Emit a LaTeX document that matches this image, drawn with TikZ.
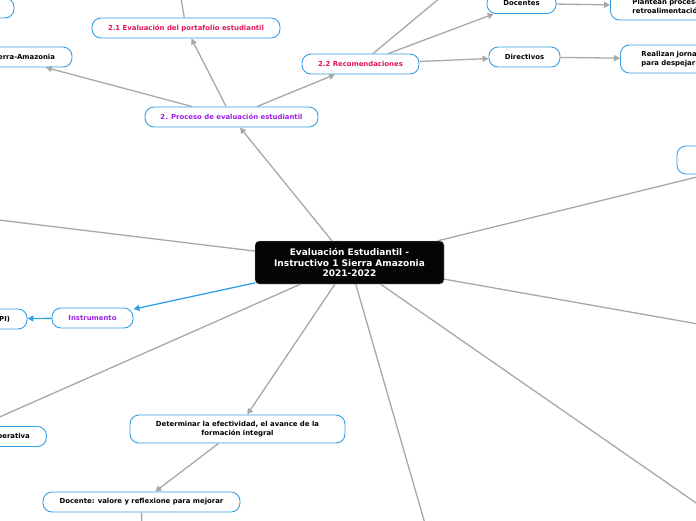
\documentclass[tikz,border=0pt]{standalone}
\usepackage{fontspec}
\setmainfont{DejaVu Sans}
\usetikzlibrary{arrows.meta}
\definecolor{mapblue}{RGB}{52,160,228}
\definecolor{mapgray}{RGB}{168,168,168}
\definecolor{mappurple}{RGB}{157,32,232}
\definecolor{mapred}{RGB}{226,20,92}
\tikzset{
    topic/.style={
        draw=mapblue,
        line width=0.9pt,
        rounded corners=9pt,
        minimum height=20pt,
        inner sep=0pt,
        align=center,
        fill=white,
        font=\fontsize{6.9}{9}\selectfont\bfseries
    },
    root/.style={
        draw=mapgray,
        fill=black!98,
        rounded corners=4pt,
        text=white,
        inner sep=0pt,
        align=center,
        font=\fontsize{9}{10.7}\selectfont\bfseries
    },
    line/.style={
        -{Triangle[length=6pt,width=6pt]},
        line width=1.3pt,
        mapgray
    },
    blueline/.style={
        line,
        mapblue
    }
}

\begin{document}
\begin{tikzpicture}[x=1pt,y=-1pt]

\useasboundingbox (0,0) rectangle (696,520);
\clip (0,0) rectangle (696,520);

\node[root, minimum width=189pt, minimum height=43pt] (central) at (349.5,262.5) {Evaluación Estudiantil -\\Instructivo 1 Sierra Amazonia\\2021-2022};

\node[topic, text=mappurple, minimum width=173pt] (proceso) at (231.5,117) {2. Proceso de evaluación estudiantil};
\node[topic, text=mapred, minimum width=188pt] (portafolio) at (186,28) {2.1 Evaluación del portafolio estudiantil};
\node[topic, text width=97pt, align=right, inner xsep=17pt] (sierra) at (6.5,57) {erra-Amazonia};
\node[topic, minimum width=120pt] (previo) at (-46,8) {};
\node[topic, text=mapred, minimum width=117pt] (recomend) at (360.5,64) {2.2 Recomendaciones};
\node[topic, minimum width=69pt] (docentes) at (521.5,3.5) {Docentes};
\node[topic, minimum width=71pt] (directivos) at (524.5,57) {Directivos};
\node[topic, anchor=west, minimum height=28pt, text width=100pt, align=left, inner xsep=22pt] (plantean) at (610,6) {Plantean procese\\retroalimentació};
\node[topic, anchor=west, minimum height=28pt, text width=100pt, align=left, inner xsep=21pt] (realizan) at (620,59) {Realizan jorna\\para despejar};
\node[topic, minimum width=178pt, minimum height=28pt] (derecha) at (766,160) {};

\node[topic, text=mappurple, minimum width=81pt] (instrumento) at (92.5,318) {Instrumento};
\node[topic, text width=80pt, align=right, inner xsep=17pt] (pi) at (-30,319) {PI)};
\node[topic, text width=149pt, align=right, inner xsep=16.5pt] (cooperativa) at (-44.6,436.5) {perativa};
\node[topic, minimum width=215pt, minimum height=28pt] (determinar) at (237.5,429) {Determinar la efectividad, el avance de la\\formación integral};
\node[topic, minimum width=197pt] (docente) at (141.5,502) {Docente: valore y reflexione para mejorar};

\coordinate (hijo21) at (178,-20);
\coordinate (hijo22) at (461.5,-20);
\coordinate (ramaizq) at (-100,208);
\coordinate (ramader) at (800,342);
\coordinate (ramainf) at (800,575);
\coordinate (ramabaja) at (435.5,560);
\coordinate (hijodoc) at (142,560);

\foreach \a/\b in {central/proceso, proceso/portafolio, proceso/sierra, proceso/recomend,
    recomend/docentes, recomend/directivos, docentes/plantean, directivos/realizan,
    central/derecha, central/cooperativa, central/determinar, determinar/docente,
    portafolio/hijo21, recomend/hijo22, central/ramaizq, central/ramader,
    central/ramainf, central/ramabaja, docente/hijodoc}
    \draw[line] (\a) -- (\b);

\foreach \a/\b in {central/instrumento, instrumento/pi}
    \draw[blueline] (\a) -- (\b);

\end{tikzpicture}
\end{document}
